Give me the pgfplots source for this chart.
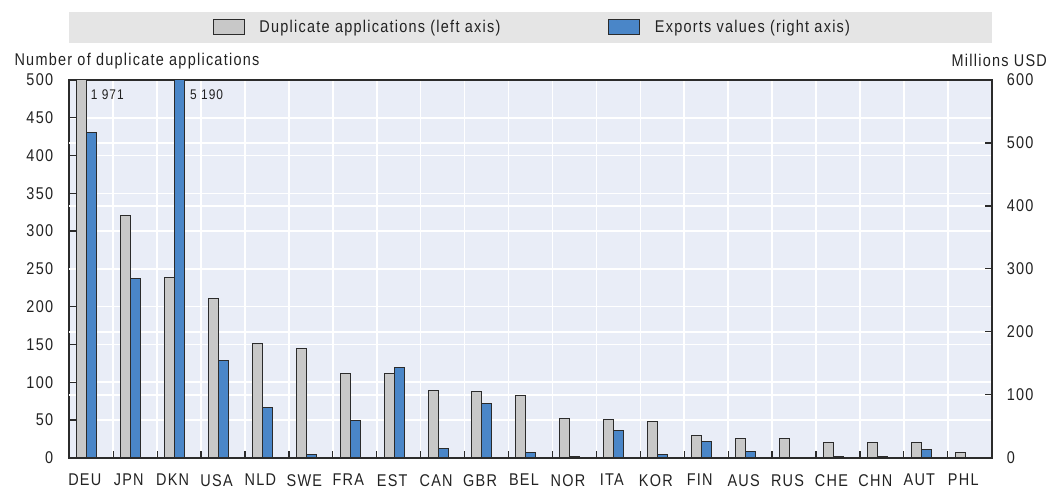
\documentclass[border=0pt]{standalone}
\usepackage{fontspec}
\setmainfont{Liberation Sans}[FakeStretch=0.85, LetterSpace=7.4]
\usepackage{pgfplots}
\usepackage{pgfplotstable}
\pgfplotsset{compat=1.18}

\definecolor{bgplot}{HTML}{E9EDF7}
\definecolor{leggray}{HTML}{E5E5E5}
\definecolor{bargray}{HTML}{C8C8C8}
\definecolor{barblue}{HTML}{4A86C8}
\definecolor{edge}{HTML}{2B2B2B}
\definecolor{rgrid}{HTML}{9C9C9C}
\definecolor{txt}{HTML}{222222}

\pgfplotstableread{
x dup exp
0 1971 517
1 321 284
2 239 5190
3 211 154
4 151 80
5 145 5
6 112 59
7 111 144
8 89 14.5
9 87.5 86
10 82.5 9
11 52 1.5
12 51 44
13 48 4.5
14 29 25
15 26 10.5
16 25 0.8
17 20.6 2.5
18 20.6 2.5
19 20.6 13.7
20 7.5 0.8
}\data

\tikzset{mainfont/.style={font=\fontsize{17bp}{20bp}\selectfont, text=txt}}
\pgfplotsset{
  legimg/.style={legend image code/.code={\draw[##1] (0bp,-7.5bp) rectangle (31bp,7.5bp); \path[draw=none,fill=none] (0bp,0bp) -- (44bp,0bp);}},
}

\begin{document}
\begin{tikzpicture}
\useasboundingbox (-69.3bp,-31.3bp) rectangle (984.7bp,457.7bp);
\fill[leggray] (0bp,414.7bp) rectangle (922.4bp,445.7bp);
\begin{axis}[
  at={(0bp,0bp)}, anchor=south west,
  scale only axis, width=922.4bp, height=377.7bp,
  xmin=-0.5, xmax=20.5, ymin=0, ymax=500,
  /pgf/number format/assume math mode=true,
  axis background/.style={fill=bgplot},
  axis line style={edge, line width=1.6bp},
  xtick={0,...,20},
  xticklabels={DEU,JPN,DKN,USA,NLD,SWE,FRA,EST,CAN,GBR,BEL,NOR,ITA,KOR,FIN,AUS,RUS,CHE,CHN,AUT,PHL},
  xtick pos=bottom, ytick pos=left,
  major x tick style={draw=none},
  minor xtick={0.5,1.5,...,19.5},
  minor x tick style={edge, line width=1.2bp},
  minor tick length=7bp,
  major tick length=7bp,
  ytick={0,50,...,500},
  y tick style={edge, line width=1.2bp},
  xminorgrids=true,
  minor x grid style={white, line width=1.5bp},
  ymajorgrids=true,
  major y grid style={white, line width=1.5bp},
  extra y ticks={83.3333,166.6667,250,333.3333,416.6667},
  extra y tick labels={},
  extra y tick style={grid=major, major grid style={draw=rgrid, line width=1.2bp}, major tick length=0pt},
  tick label style={mainfont},
  xticklabel style={xshift=-6.5bp, yshift=-13bp},
  yticklabel style={anchor=east, inner sep=0pt, xshift=-16bp},
  ylabel={Number of duplicate applications},
  every axis y label/.style={at={(rel axis cs:0,1)}, anchor=base west, xshift=-58.3bp, yshift=14.5bp, mainfont},
]
\addplot[ybar, bar width=10bp, bar shift=-9.6bp, fill=bargray, draw=edge, line width=1bp] table[x=x,y=dup]{\data};
\node[anchor=base west, font=\fontsize{14bp}{16bp}\selectfont, text=txt, inner sep=0pt] at (axis cs:-0.013,500) [yshift=-19bp] {1 971};
\node[anchor=base west, font=\fontsize{14bp}{16bp}\selectfont, text=txt, inner sep=0pt] at (axis cs:2.248,500) [yshift=-19bp] {5 190};
\end{axis}
\begin{axis}[
  at={(0bp,0bp)}, anchor=south west,
  scale only axis, width=922.4bp, height=377.7bp,
  xmin=-0.5, xmax=20.5, ymin=0, ymax=600,
  /pgf/number format/assume math mode=true,
  axis x line=none, axis y line*=right,
  axis line style={edge, line width=1.6bp},
  ytick={0,100,...,600},
  y tick style={edge, line width=1.2bp},
  major tick length=7bp,
  tick label style={mainfont},
  yticklabel style={anchor=west, inner sep=0pt, xshift=15bp},
  ylabel={Millions USD},
  every axis y label/.style={at={(rel axis cs:1,1)}, anchor=base east, xshift=58.7bp, yshift=13.3bp, mainfont},
  legend columns=2,
  legend cell align=left,
  legend style={at={(rel axis cs:0.5,1.139)}, anchor=center, xshift=2bp, draw=none, fill=none, mainfont,
    /tikz/every even column/.append style={column sep=106bp}},
]
\addlegendimage{legimg, fill=bargray, draw=edge, line width=1bp}
\addlegendentry{Duplicate applications (left axis)}
\addplot[ybar, bar width=10bp, bar shift=0.4bp, fill=barblue, draw=edge, line width=1bp, legimg] table[x=x,y=exp]{\data};
\addlegendentry{Exports values (right axis)}
\end{axis}
\end{tikzpicture}
\end{document}
